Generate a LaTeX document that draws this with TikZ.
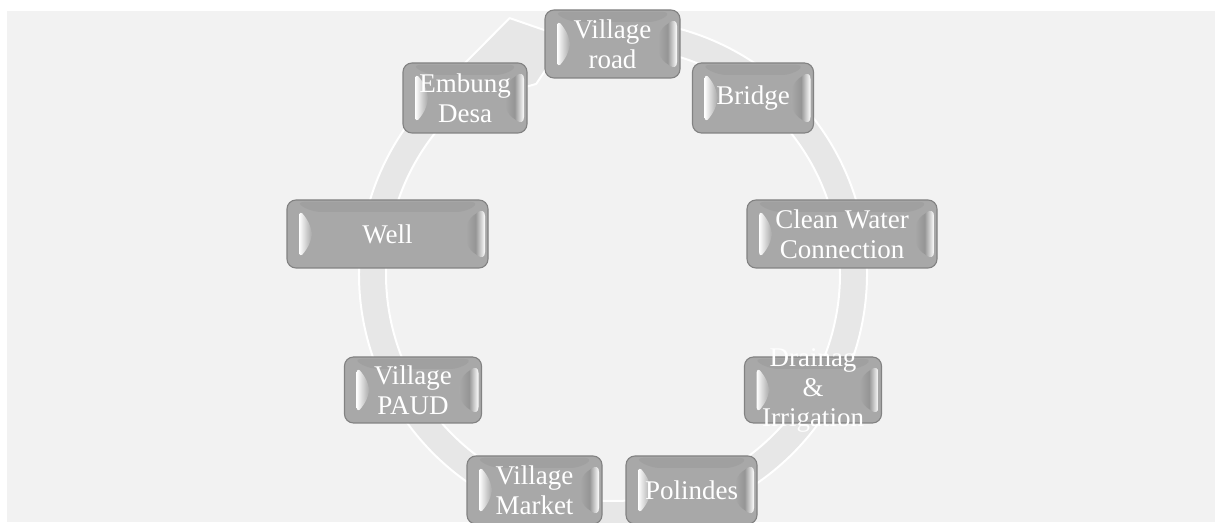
\documentclass[tikz,border=0pt]{standalone}
\usepackage{fontspec}
\setmainfont{Liberation Serif}
\newfontfamily\tilefont{Liberation Serif}
\usetikzlibrary{calc}
\definecolor{bgray}{HTML}{F2F2F2}
\definecolor{ringfill}{HTML}{E7E7E7}
\definecolor{face}{HTML}{A8A8A8}
\definecolor{rim}{HTML}{828282}
\definecolor{shadeA}{HTML}{959595}
\tikzset{
 bevel/.style={path picture={
   \coordinate (bsw) at (path picture bounding box.south west);
   \coordinate (bne) at (path picture bounding box.north east);
   \coordinate (bnw) at (bsw|-bne);
   \coordinate (bse) at (bne|-bsw);
   \fill[face!95!black] ($(bnw)+(8,-2)$) -- ($(bne)+(-8,-2)$) -- ($(bne)+(-22,-12)$) -- ($(bnw)+(25,-12)$) -- cycle;
   \shade[left color=white, right color=face] ($(bsw)+(12,8)$) -- ($(bnw)+(12,-8)$) -- ($(bnw)+(25,-27)$) -- ($(bsw)+(25,27)$) -- cycle;
   \shade[left color=face, right color=white, middle color=shadeA] ($(bse)+(-3,7)$) -- ($(bne)+(-3,-7)$) -- ($(bne)+(-22,-21)$) -- ($(bse)+(-22,21)$) -- cycle;
 }},
 tile/.style={draw=rim, line width=1.1pt, fill=face, rounded corners=9pt, inner sep=0pt, minimum height=68pt, bevel},
 tiletext/.style={text=white, align=center, font=\tilefont\fontsize{27}{30}\selectfont, inner sep=0pt},
 band/.style={fill=ringfill, draw=white, line width=2pt, line join=round},
}
\begin{document}
\begin{tikzpicture}[x=1pt,y=1pt]
\useasboundingbox (0,0) rectangle (1215,522);
\fill[white] (0,0) rectangle (1215,522);
\fill[bgray] (7,0) rectangle (1215,511);
% circular arrow
\coordinate (c) at (613,248);
\path[band] ([shift={(85:254)}]c) arc[start angle=85, end angle=-228, radius=254]
  -- ([shift={(112:276)}]c) -- ([shift={(101:240.5)}]c) -- ([shift={(112:205)}]c)
  -- ([shift={(132:227)}]c) arc[start angle=-228, end angle=85, radius=227] -- cycle;
% tiles
\node[tile, minimum width=135pt] (road) at (612.5,478) {};
\node[tile, minimum width=121pt, minimum height=70pt] (bridge) at (753,424) {};
\node[tile, minimum width=124pt, minimum height=70pt] (embung) at (465,424) {};
\node[tile, minimum width=190pt] (clean) at (842,288) {};
\node[tile, minimum width=201pt] (well) at (387.5,288) {};
\node[tile, minimum width=137pt, minimum height=66pt] (drain) at (813,132) {};
\node[tile, minimum width=137pt, minimum height=66pt] (paud) at (413,132) {};
\node[tile, minimum width=131pt] (polindes) at (691.5,32) {};
\node[tile, minimum width=135pt] (market) at (534.5,32) {};
% texts
\node[tiletext] (road-t) at (road) {Village\\road};
\node[tiletext] (bridge-t) at (bridge) {Bridge};
\node[tiletext] (embung-t) at (embung) {Embung\\Desa};
\node[tiletext] (clean-t) at (clean) {Clean Water\\Connection};
\node[tiletext] (well-t) at (well) {Well};
\node[tiletext] (drain-t) at (drain) {Drainag\\\&\\Irrigation};
\node[tiletext] (paud-t) at (paud) {Village\\PAUD};
\node[tiletext] (polindes-t) at (polindes) {Polindes};
\node[tiletext] (market-t) at (market) {Village\\Market};
\end{tikzpicture}
\end{document}
